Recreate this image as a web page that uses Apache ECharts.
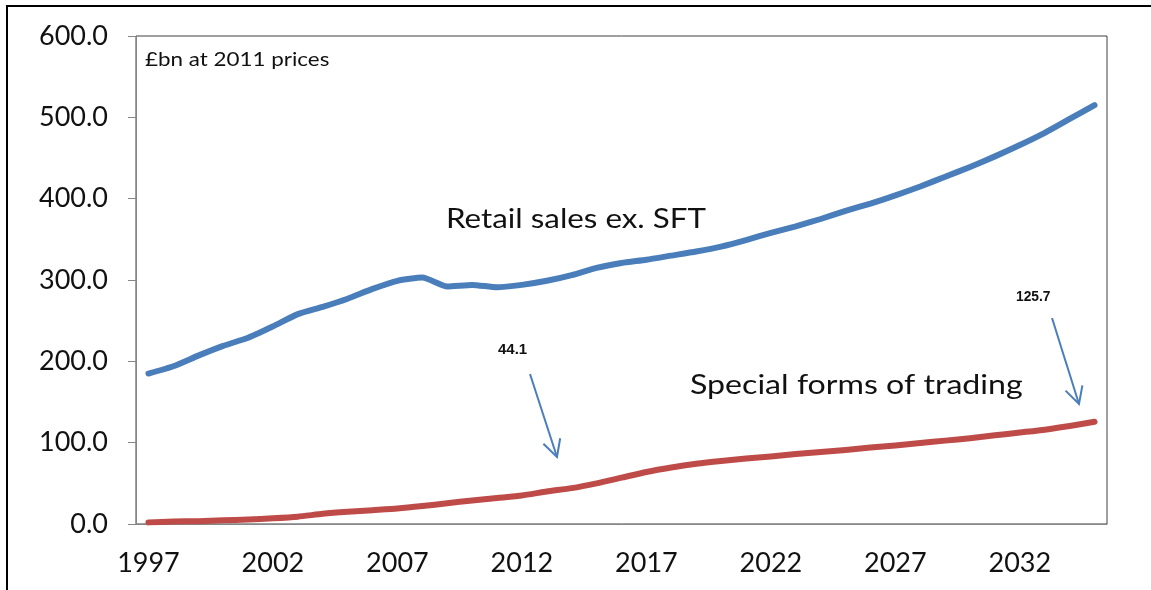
<!DOCTYPE html>
<html>
<head>
<meta charset="utf-8">
<script src="https://cdn.jsdelivr.net/npm/echarts@6/dist/echarts.min.js"></script>
<style>
  html, body { margin: 0; padding: 0; background: #fff; }
  #chart { width: 1151px; height: 590px; }
</style>
</head>
<body>
<div id="chart"></div>
<script>
const years = [];
for (let y = 1997; y <= 2035; y++) years.push(String(y));

// £bn at 2011 prices
const retailExSft = [
  185, 194, 207, 219, 229, 243, 258, 267, 277, 289,
  299, 303, 292, 294, 291, 294, 299, 306, 315, 321,
  325, 330, 335, 341, 349, 358, 366, 375, 385, 394,
  404, 415, 427, 439, 452, 466, 481, 498, 515
];
const specialForms = [
  2, 3, 3.5, 4.5, 5.5, 7, 9, 12.5, 15, 17,
  19, 22, 25.5, 29, 32, 35, 40, 44.1, 50, 57,
  64, 69.5, 74, 77.5, 80.5, 83, 86, 88.5, 91, 94,
  96.5, 99.5, 102.5, 105.5, 109, 112.5, 116, 120.5, 125.7
];
const yTicks = [0, 100, 200, 300, 400, 500, 600];

const FONT = 'Lato, "Liberation Sans", sans-serif';
const BLUE = '#4a7ebb';
const RED = '#be4b48';

const chart = echarts.init(document.getElementById('chart'));

// simple open-head arrow made of a line and a V
const arrow = (x1, y1, x2, y2) => {
  const len = Math.hypot(x2 - x1, y2 - y1);
  const bx = (x1 - x2) / len, by = (y1 - y2) / len;
  const c = Math.cos(Math.PI / 6.5), s = Math.sin(Math.PI / 6.5), h = 19;
  const a1 = [x2 + h * (bx * c - by * s), y2 + h * (bx * s + by * c)];
  const a2 = [x2 + h * (bx * c + by * s), y2 + h * (-bx * s + by * c)];
  const style = { stroke: BLUE, lineWidth: 2, fill: null };
  return [
    { type: 'line', shape: { x1, y1, x2, y2 }, style },
    { type: 'polyline', shape: { points: [a1, [x2, y2], a2] }, style }
  ];
};

// free text, stretched a little sideways to get the wide look of the original font
const text = (x, y, str, size, weight, sx, family) => ({
  type: 'text', x, y, scaleX: sx || 1,
  style: {
    text: str, fontSize: size, fontWeight: weight || 'normal', fontFamily: family || FONT,
    fill: '#111', verticalAlign: 'middle'
  }
});

chart.setOption({
  backgroundColor: '#fff',
  animation: false,
  grid: { left: 136, right: 44, top: 36, bottom: 66, show: true, borderColor: '#404040', borderWidth: 1 },
  xAxis: {
    type: 'category',
    data: years,
    boundaryGap: true,
    axisLine: { lineStyle: { color: '#868686', width: 1 } },
    axisTick: { interval: 0, length: 8, lineStyle: { color: '#868686' } },
    axisLabel: { interval: 4, margin: 26, fontSize: 27, fontFamily: FONT, color: '#111' }
  },
  yAxis: {
    type: 'value',
    min: yTicks[0],
    max: yTicks[yTicks.length - 1],
    interval: 100,
    splitLine: { show: false },
    axisLine: { show: true, lineStyle: { color: '#868686', width: 1 } },
    axisTick: { show: true, length: 8, lineStyle: { color: '#868686' } },
    axisLabel: { margin: 28, fontSize: 27, fontFamily: FONT, color: '#111', formatter: v => v.toFixed(1) }
  },
  series: [
    {
      name: 'Retail sales ex. SFT',
      type: 'line',
      data: retailExSft,
      smooth: 0.2,
      symbol: 'none',
      lineStyle: { color: BLUE, width: 6, cap: 'round', join: 'round' }
    },
    {
      name: 'Special forms of trading',
      type: 'line',
      data: specialForms,
      smooth: 0.2,
      symbol: 'none',
      lineStyle: { color: RED, width: 6, cap: 'round', join: 'round' }
    }
  ],
  graphic: [
    { type: 'rect', shape: { x: 7, y: 6, width: 1200, height: 700 }, style: { stroke: '#000', lineWidth: 2, fill: null }, z: 100 },
    text(145, 60, '£bn at 2011 prices', 20, 'normal', 1.12),
    text(446, 219, 'Retail sales ex. SFT', 27, 'normal', 1.16),
    text(690, 385, 'Special forms of trading', 27, 'normal', 1.19),
    text(498, 350, '44.1', 15, 'bold', 1, '"Liberation Sans", sans-serif'),
    text(1016, 297, '125.7', 15, 'bold', 0.92, '"Liberation Sans", sans-serif'),
    ...arrow(530, 374, 557, 457),
    ...arrow(1052, 318, 1079, 404)
  ]
});
</script>
</body>
</html>
